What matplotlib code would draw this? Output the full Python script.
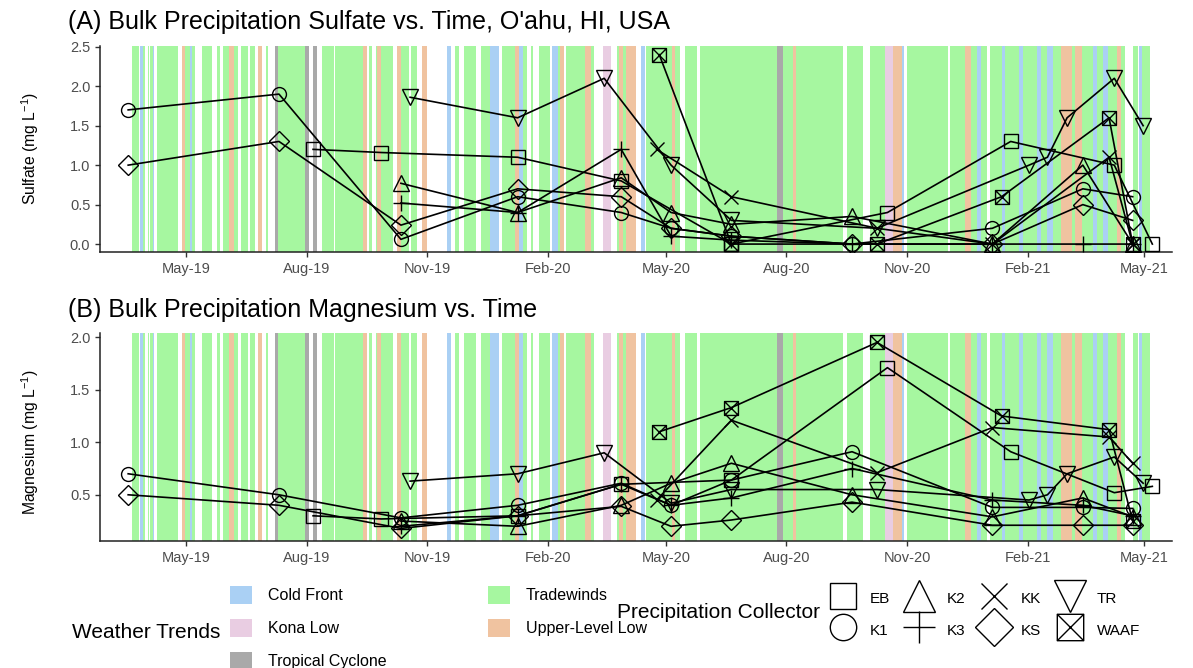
import matplotlib
matplotlib.use("Agg")
import matplotlib.pyplot as plt
import matplotlib.dates as mdates
from matplotlib.path import Path
from matplotlib.patches import Patch
from matplotlib.lines import Line2D
import pandas as pd

plt.rcParams['font.family'] = ['Liberation Sans', 'DejaVu Sans']
plt.rcParams['mathtext.fontset'] = 'custom'
plt.rcParams['mathtext.rm'] = 'Liberation Sans'
plt.rcParams['mathtext.it'] = 'Liberation Sans:italic'

# weather trend periods, days counted from 2019-03-16
# C = cold front, K = kona low, S = tropical cyclone, T = tradewinds, U = upper-level low
band_origin = pd.Timestamp('2019-03-16')
bands = [
    (5, 10, 'T'), (11, 13, 'C'), (13, 15, 'T'), (17, 18, 'T'), (19, 21, 'T'), (21, 22, 'C'),
    (24, 40, 'T'), (43, 45, 'U'), (45, 49, 'T'), (49, 51, 'C'), (51, 53, 'T'), (58, 66, 'T'),
    (70, 72, 'T'), (74, 79, 'T'), (79, 83, 'U'), (83, 86, 'T'), (88, 93, 'T'), (95, 99, 'T'),
    (101, 104, 'U'), (107, 109, 'T'), (114, 116, 'S'), (116, 137, 'T'), (137, 140, 'S'),
    (143, 146, 'S'), (150, 159, 'T'), (160, 181, 'T'), (181, 184, 'U'), (186, 188, 'T'),
    (191, 192, 'T'), (192, 195, 'U'), (195, 204, 'T'), (207, 210, 'U'), (210, 216, 'T'),
    (218, 222, 'T'), (226, 230, 'U'), (245, 248, 'C'), (251, 254, 'T'), (258, 267, 'T'),
    (271, 278, 'T'), (278, 285, 'C'), (287, 297, 'T'), (297, 300, 'U'), (300, 303, 'C'),
    (303, 306, 'T'), (309, 311, 'T'), (315, 324, 'T'), (325, 330, 'C'), (330, 331, 'T'),
    (331, 334, 'U'), (336, 350, 'T'), (350, 355, 'U'), (355, 357, 'T'), (364, 370, 'K'),
    (375, 376, 'T'), (376, 379, 'U'), (379, 382, 'T'), (382, 389, 'U'), (393, 396, 'C'),
    (397, 417, 'T'), (417, 419, 'U'), (419, 423, 'T'), (427, 436, 'T'), (438, 497, 'T'),
    (497, 501, 'S'), (501, 509, 'T'), (509, 511, 'U'), (511, 547, 'T'), (550, 562, 'T'),
    (568, 579, 'T'), (579, 585, 'K'), (585, 592, 'U'), (592, 594, 'C'), (596, 627, 'T'),
    (629, 640, 'T'), (640, 645, 'U'), (645, 649, 'T'), (649, 652, 'C'), (652, 657, 'T'),
    (659, 668, 'T'), (668, 671, 'C'), (671, 681, 'T'), (681, 684, 'C'), (684, 695, 'T'),
    (695, 698, 'C'), (698, 703, 'T'), (703, 707, 'C'), (707, 713, 'T'), (713, 722, 'U'),
    (722, 724, 'T'), (724, 729, 'U'), (729, 738, 'T'), (738, 741, 'C'), (741, 745, 'T'),
    (745, 749, 'C'), (749, 756, 'T'), (756, 759, 'U'), (759, 762, 'T'), (768, 772, 'T'),
    (773, 775, 'C'), (775, 781, 'T'),
]
band_names = {'C': 'Cold Front', 'K': 'Kona Low', 'S': 'Tropical Cyclone',
              'T': 'Tradewinds', 'U': 'Upper-Level Low'}
band_colors = {'C': '#AAD0F4', 'K': '#E9CDE2', 'S': '#A9A9A9',
               'T': '#A6F7A0', 'U': '#F0C3A0'}

# collector data
eb_dates = ['2019-08-06', '2019-09-27', '2020-01-09', '2020-03-28', '2020-06-20',
            '2020-10-17', '2021-01-19', '2021-04-08', '2021-05-07']
eb_so4 = [1.2, 1.16, 1.1, 0.8, 0.0, 0.4, 1.3, 1.0, 0.0]
eb_mg = [0.3, 0.27, 0.3, 0.6, 0.64, 1.71, 0.91, 0.52, 0.58]

k1_dates = ['2019-03-18', '2019-07-11', '2019-10-12', '2020-01-09', '2020-03-28',
            '2020-05-05', '2020-06-20', '2020-09-20', '2021-01-05', '2021-03-15', '2021-04-22']
k1_so4 = [1.7, 1.9, 0.06, 0.6, 0.4, 0.2, 0.1, 0.0, 0.2, 0.7, 0.6]
k1_mg = [0.7, 0.5, 0.28, 0.4, 0.61, 0.4, 0.64, 0.91, 0.38, 0.38, 0.37]

k2_dates = ['2019-10-12', '2020-01-09', '2020-03-28', '2020-05-05', '2020-06-20',
            '2020-09-20', '2021-01-05', '2021-03-15', '2021-04-22']
k2_so4 = [0.77, 0.4, 0.84, 0.4, 0.25, 0.35, 0.0, 1.0, 0.0]
k2_mg = [0.25, 0.2, 0.4, 0.61, 0.8, 0.5, 0.29, 0.47, 0.29]

k3_dates = ['2019-10-12', '2020-01-09', '2020-03-28', '2020-05-05', '2020-06-20',
            '2020-09-20', '2021-01-05', '2021-03-15', '2021-04-22']
k3_so4 = [0.52, 0.4, 1.2, 0.1, 0.05, 0.0, 0.0, 0.0, 0.0]
k3_mg = [0.2, 0.3, 0.6, 0.4, 0.47, 0.75, 0.45, 0.4, 0.3]

kk_dates = ['2020-04-24', '2020-06-20', '2020-10-09', '2021-01-05', '2021-04-04', '2021-04-22']
kk_so4 = [1.2, 0.6, 0.2, 0.0, 1.1, 0.0]
kk_mg = [0.45, 1.21, 0.71, 1.14, 1.05, 0.8]

ks_dates = ['2019-03-18', '2019-07-11', '2019-10-12', '2020-01-09', '2020-03-28',
            '2020-05-05', '2020-06-20', '2020-09-20', '2021-01-05', '2021-03-15', '2021-04-22']
ks_so4 = [1.0, 1.3, 0.24, 0.7, 0.6, 0.2, 0.1, 0.0, 0.0, 0.5, 0.3]
ks_mg = [0.5, 0.4, 0.18, 0.3, 0.39, 0.2, 0.26, 0.43, 0.21, 0.21, 0.21]

tr_dates = ['2019-10-19', '2020-01-09', '2020-03-15', '2020-05-05', '2020-06-20',
            '2020-10-09', '2021-02-02', '2021-02-16', '2021-03-03', '2021-04-08', '2021-04-30']
tr_so4 = [1.86, 1.6, 2.1, 1.0, 0.3, 0.2, 1.0, 1.1, 1.6, 2.1, 1.5]
tr_mg = [0.63, 0.7, 0.9, 0.42, 0.55, 0.55, 0.45, 0.5, 0.7, 0.86, 0.61]

waaf_dates = ['2020-04-26', '2020-06-20', '2020-10-09', '2021-01-12', '2021-04-04', '2021-04-22']
waaf_so4 = [2.4, 0.0, 0.0, 0.6, 1.6, 0.0]
waaf_mg = [1.1, 1.33, 1.95, 1.25, 1.12, 0.25]

# square with a cross, like R shape 7
waaf_marker = Path([(-1, -1), (1, -1), (1, 1), (-1, 1), (-1, -1), (-1, -1), (1, 1), (-1, 1), (1, -1)],
                   [Path.MOVETO, Path.LINETO, Path.LINETO, Path.LINETO, Path.CLOSEPOLY,
                    Path.MOVETO, Path.LINETO, Path.MOVETO, Path.LINETO])

collectors = [
    ('EB', eb_dates, eb_so4, eb_mg, 's', 10),
    ('K1', k1_dates, k1_so4, k1_mg, 'o', 10),
    ('K2', k2_dates, k2_so4, k2_mg, '^', 12),
    ('K3', k3_dates, k3_so4, k3_mg, '+', 12),
    ('KK', kk_dates, kk_so4, kk_mg, 'x', 10),
    ('KS', ks_dates, ks_so4, ks_mg, 'D', 10),
    ('TR', tr_dates, tr_so4, tr_mg, 'v', 12),
    ('WAAF', waaf_dates, waaf_so4, waaf_mg, waaf_marker, 10),
]

fig = plt.figure(figsize=(11.93, 6.68), dpi=100)
ax_so4 = fig.add_axes([0.0838, 0.6228, 0.8986, 0.3084])
ax_mg = fig.add_axes([0.0838, 0.1901, 0.8986, 0.3114])

xmin = pd.Timestamp('2019-02-24 12:00')
xmax = pd.Timestamp('2021-05-22')

for ax, col in [(ax_so4, 2), (ax_mg, 3)]:
    for b0, b1, code in bands:
        ax.axvspan(band_origin + pd.Timedelta(days=b0), band_origin + pd.Timedelta(days=b1),
                   color=band_colors[code], lw=0, zorder=0)
    for c in collectors:
        d = pd.to_datetime(c[1])
        ax.plot(d, c[col], color='black', lw=1.2, zorder=2)
        ax.plot(d, c[col], ls='none', marker=c[4], ms=c[5], mfc='none', mec='black',
                mew=1.0, zorder=3)
    ax.set_xlim(xmin, xmax)
    ax.xaxis.set_major_locator(mdates.MonthLocator(bymonth=[2, 5, 8, 11]))
    ax.xaxis.set_major_formatter(mdates.DateFormatter('%b-%y'))
    ax.spines['top'].set_visible(False)
    ax.spines['right'].set_visible(False)
    for s in ['left', 'bottom']:
        ax.spines[s].set_linewidth(1.1)
        ax.spines[s].set_color('#222222')
    ax.tick_params(length=3.5, width=1.0, color='#333333', labelcolor='#4D4D4D', labelsize=10.5)

ax_so4.set_ylim(-0.10, 2.51)
ax_so4.set_yticks([0, 0.5, 1.0, 1.5, 2.0, 2.5])
ax_so4.set_yticklabels(['0.0', '0.5', '1.0', '1.5', '2.0', '2.5'])
ax_mg.set_ylim(0.06, 2.04)
ax_mg.set_yticks([0.5, 1.0, 1.5, 2.0])
ax_mg.set_yticklabels(['0.5', '1.0', '1.5', '2.0'])

fig.text(68 / 1193, 1 - 22 / 668, "(A) Bulk Precipitation Sulfate vs. Time, O'ahu, HI, USA",
         fontsize=18, va='center', ha='left')
fig.text(68 / 1193, 1 - 310 / 668, "(B) Bulk Precipitation Magnesium vs. Time",
         fontsize=18, va='center', ha='left')
fig.text(30 / 1193, 1 - 148 / 668, 'Sulfate (mg L$^{-1}$)', rotation=90, fontsize=11.3,
         va='center', ha='center')
fig.text(30 / 1193, 1 - 442 / 668, 'Magnesium (mg L$^{-1}$)', rotation=90, fontsize=11.3,
         va='center', ha='center')

# weather legend
weather_order = ['C', 'K', 'S', 'T', 'U']
weather_handles = [Patch(facecolor=band_colors[k], edgecolor='none', label=band_names[k])
                   for k in weather_order]
fig.text(72 / 1193, 1 - 632 / 668, 'Weather Trends', fontsize=15, va='center', ha='left')
fig.legend(handles=weather_handles, loc='center left', bbox_to_anchor=(230 / 1193, 1 - 628 / 668),
           ncol=2, frameon=False, fontsize=11.5, handlelength=1.4, handleheight=1.4,
           handletextpad=1.0, labelspacing=0.92, columnspacing=6.3, borderpad=0, borderaxespad=0)

# collector legend
coll_handles = [Line2D([], [], ls='none', marker=c[4], ms=c[5] * 1.9, mfc='none', mec='black',
                       mew=1.0, label=c[0]) for c in collectors]
fig.text(617 / 1193, 1 - 612 / 668, 'Precipitation Collector', fontsize=15, va='center', ha='left')
fig.legend(handles=coll_handles, loc='center left', bbox_to_anchor=(828 / 1193, 1 - 614 / 668),
           ncol=4, frameon=False, fontsize=11, handlelength=2.0, handleheight=1.6,
           handletextpad=0.76, labelspacing=0.75, columnspacing=0.9, borderpad=0, borderaxespad=0)

fig.savefig('out.png', dpi=100)
